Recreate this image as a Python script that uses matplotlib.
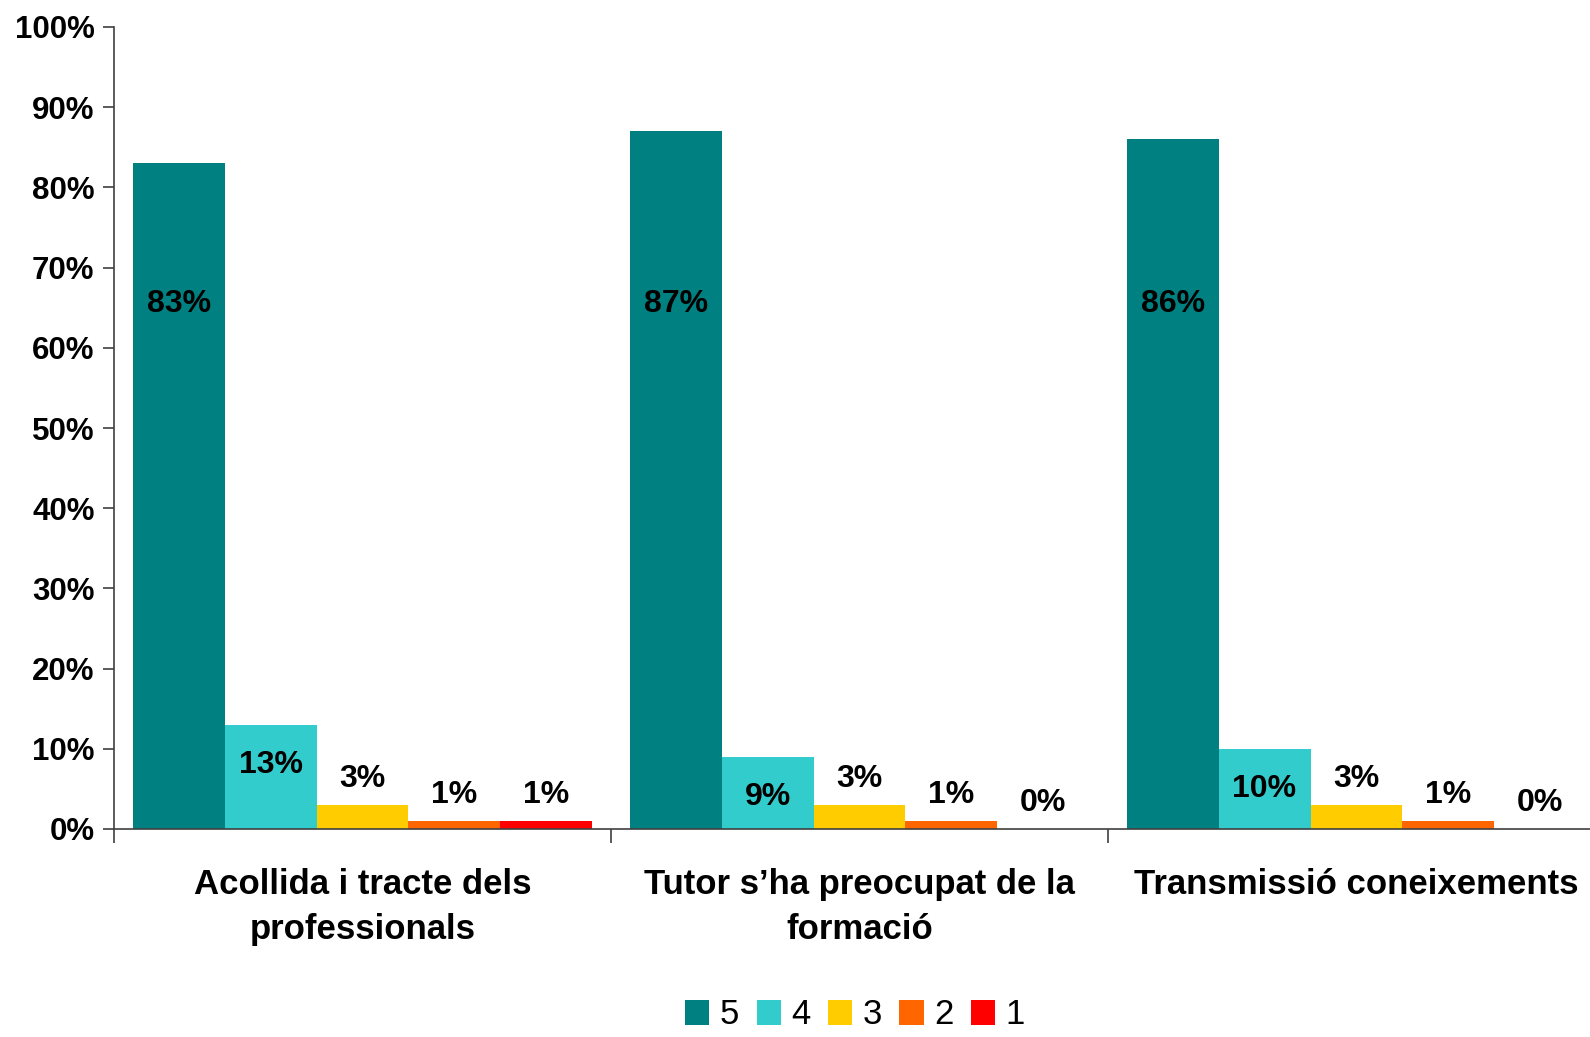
import matplotlib
matplotlib.use("Agg")
import matplotlib.pyplot as plt
from matplotlib.patches import Patch
import numpy as np

plt.rcParams['font.family'] = ['Liberation Sans', 'DejaVu Sans']

# data
categories = ["Acollida i tracte dels\nprofessionals",
              "Tutor s\u2019ha preocupat de la\nformació",
              "Transmissió coneixements"]
series_names = ["5", "4", "3", "2", "1"]
values = [
    [83, 87, 86],   # 5
    [13, 9, 10],    # 4
    [3, 3, 3],      # 3
    [1, 1, 1],      # 2
    [1, 0, 0],      # 1
]
colors = ["#008080", "#33CCCC", "#FFCC00", "#FF6600", "#FF0000"]
yticks = list(range(0, 101, 10))

fig = plt.figure(figsize=(15.9, 10.37), dpi=100)
ax = fig.add_axes([114 / 1590, 208 / 1037, 1491 / 1590, 802 / 1037])

w = 0.185
n = len(series_names)
centers = np.arange(len(categories)) + 0.5
for k, (name, vals, col) in enumerate(zip(series_names, values, colors)):
    xs = centers + (k - (n - 1) / 2) * w
    ax.bar(xs, vals, width=w, color=col, linewidth=0, label=name, zorder=2)
    for x, v in zip(xs, vals):
        # label placement roughly like the original (fixed spot in big bars)
        if v >= 50:
            y = 65.4
        elif v >= 5:
            y = v - 5.0
        else:
            y = v + 3.2
        ax.text(x, y, f"{v}%", ha="center", va="center",
                fontsize=23, fontweight="bold", color="black", zorder=3)

ax.set_xlim(0, len(categories))
ax.set_ylim(0, 100)
ax.set_yticks(yticks)
ax.set_yticklabels([f"{t}%" for t in yticks], fontsize=22.5, fontweight="bold")

ax.set_xticks(np.arange(len(categories) + 1))
ax.set_xticklabels([])
ax.set_xticks(centers, minor=True)
ax.set_xticklabels(categories, minor=True, fontsize=25, fontweight="bold",
                   linespacing=1.45)
ax.tick_params(axis="x", which="minor", length=0, pad=28)
ax.tick_params(axis="x", which="major", length=10, width=1.2, color="#404040", direction="out")
ax.tick_params(axis="y", length=8, width=1.2, color="#404040", pad=6)

for s in ["top", "right"]:
    ax.spines[s].set_visible(False)
for s in ["left", "bottom"]:
    ax.spines[s].set_color("#404040")
    ax.spines[s].set_linewidth(1.2)

handles = [Patch(facecolor=c, edgecolor="none", label=nm) for nm, c in zip(series_names, colors)]
fig.legend(handles=handles, loc="center", bbox_to_anchor=(855 / 1590, 1 - 1015 / 1037),
           ncol=5, frameon=False, fontsize=25, handlelength=0.7, handleheight=0.7,
           handletextpad=0.3, columnspacing=0.5, borderpad=0.1)

fig.savefig("out.png", dpi=100)
